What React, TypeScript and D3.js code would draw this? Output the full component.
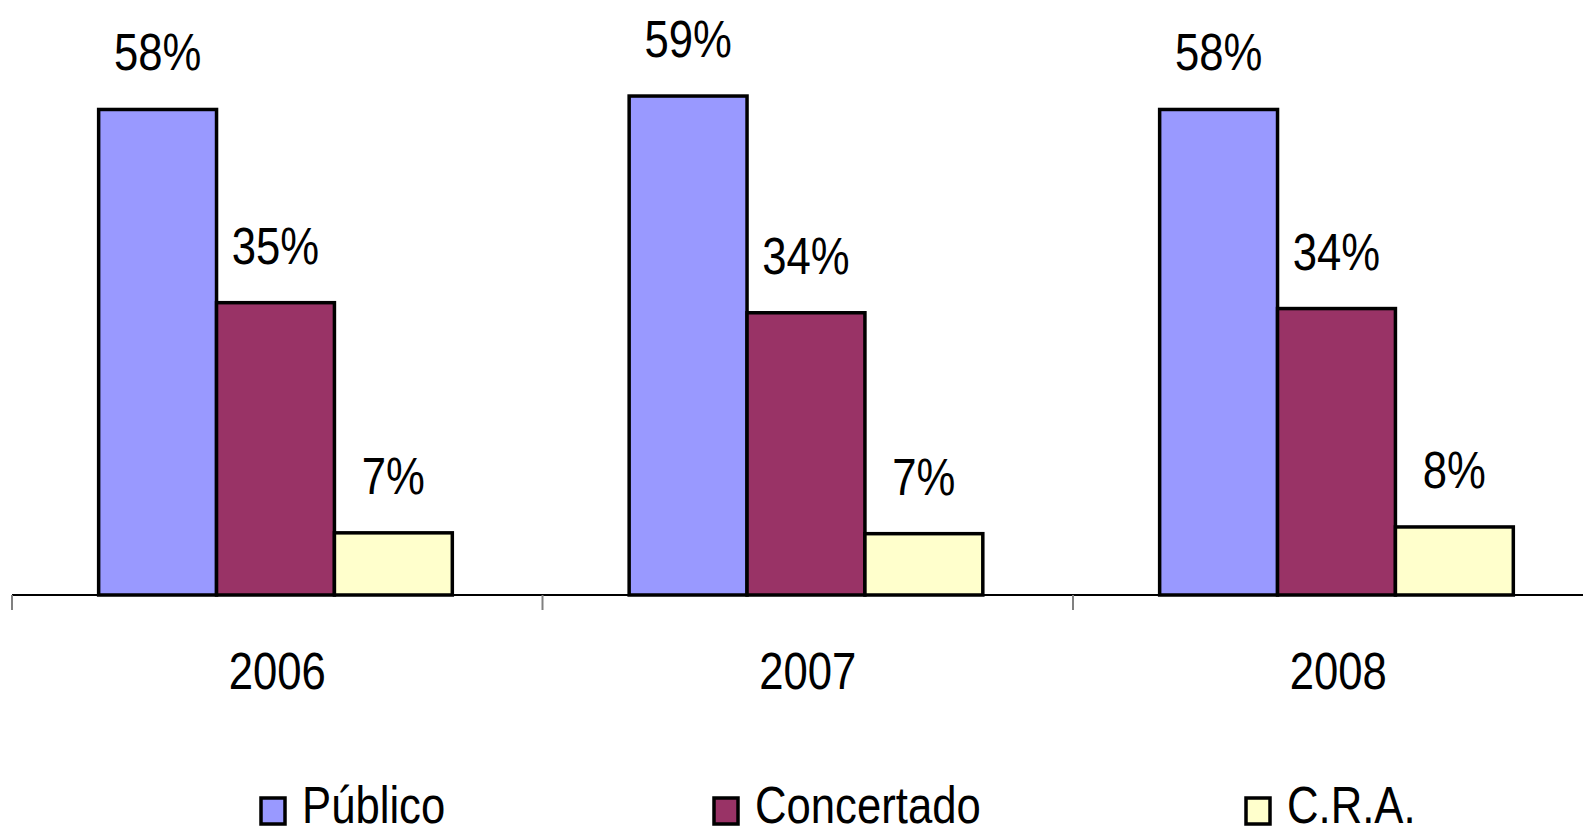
import React from "react";
import * as d3 from "d3";

const years = ["2006", "2007", "2008"];
const series = ["Público", "Concertado", "C.R.A."];
const publico = [57.8, 59.4, 57.8];
const concertado = [34.8, 33.6, 34.1];
const cra = [7.4, 7.3, 8.1];
const colors = ["#9999FF", "#993366", "#FFFFCC"];
const legendX = [261, 714, 1246];

const W = 1583;
const H = 828;
const FONT = "'Liberation Sans Narrow', 'Arial Narrow', 'Liberation Sans', Arial, sans-serif";
const SX = 0.84;

function NText({ x, y, anchor, children }: { x: number; y: number; anchor: string; children: React.ReactNode }) {
  return (
    <text
      transform={`translate(${x},${y}) scale(${SX},1)`}
      textAnchor={anchor}
      fontSize={52}
      fill="#000"
    >
      {children}
    </text>
  );
}

export default function App() {
  const values = [publico, concertado, cra];
  const axisY = 595;
  const x0 = d3.scaleBand<string>().domain(years).range([12, 12 + 3 * 530.5]).padding(0);
  const x1 = d3
    .scaleBand<string>()
    .domain(series)
    .range([0, x0.bandwidth()])
    .paddingInner(0)
    .paddingOuter(0.75)
    .align(0.49);
  const y = d3.scaleLinear().domain([0, 60]).range([axisY, axisY - 504]);
  const fmt = (v: number) => `${Math.round(v)}%`;

  return (
    <svg
      width={W}
      height={H}
      style={{ position: "absolute", left: 0, top: 0, background: "#fff" }}
      fontFamily={FONT}
    >
      <rect x={0} y={0} width={W} height={H} fill="#fff" />
      {years.map((yr, i) => (
        <g key={yr}>
          {series.map((s, j) => {
            const v = values[j][i];
            const bx = (x0(yr) as number) + (x1(s) as number);
            const bw = x1.bandwidth();
            return (
              <g key={s}>
                <rect
                  x={bx}
                  y={y(v)}
                  width={bw}
                  height={axisY - y(v)}
                  fill={colors[j]}
                  stroke="#000"
                  strokeWidth={3.5}
                />
                <NText x={bx + bw / 2} y={y(v) - 39} anchor="middle">
                  {fmt(v)}
                </NText>
              </g>
            );
          })}
        </g>
      ))}
      <line x1={12} x2={W} y1={axisY} y2={axisY} stroke="#000" strokeWidth={2} />
      {[...years.map((yr) => x0(yr) as number), (x0(years[2]) as number) + x0.bandwidth()].map((tx, i) => (
        <line key={i} x1={tx} x2={tx} y1={axisY} y2={axisY + 15} stroke="#808080" strokeWidth={2} />
      ))}
      {years.map((yr) => (
        <NText key={yr} x={(x0(yr) as number) + x0.bandwidth() / 2} y={689} anchor="middle">
          {yr}
        </NText>
      ))}
      {series.map((s, j) => (
        <g key={s}>
          <rect x={legendX[j]} y={798} width={24} height={26} fill={colors[j]} stroke="#000" strokeWidth={3.5} />
          <NText x={legendX[j] + 41} y={823} anchor="start">
            {s}
          </NText>
        </g>
      ))}
    </svg>
  );
}
